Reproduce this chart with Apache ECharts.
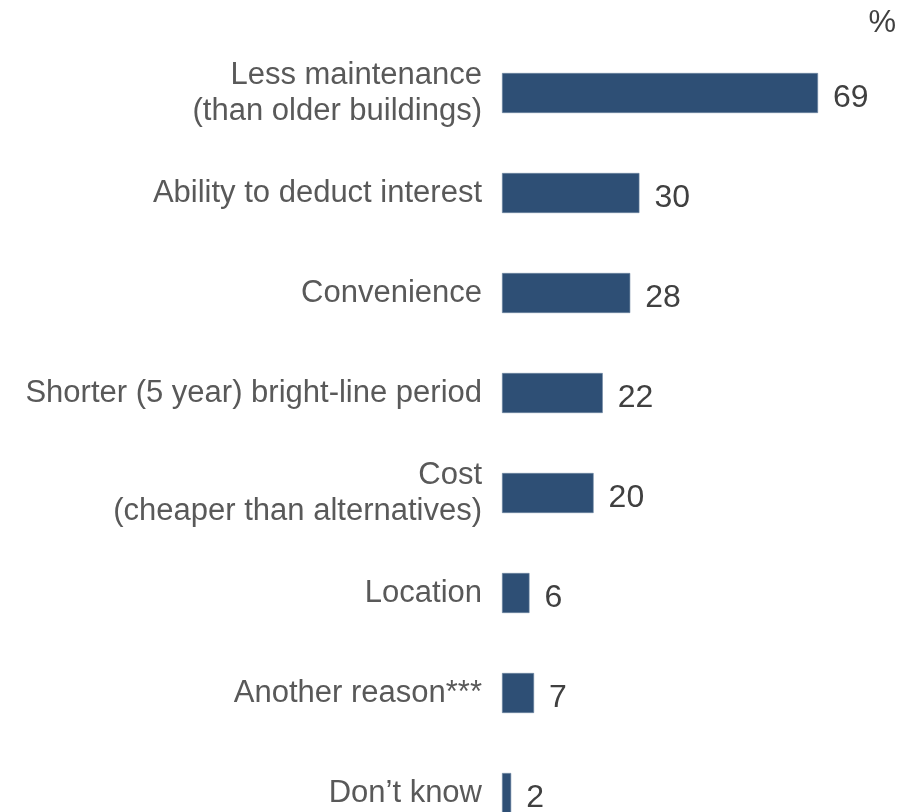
<!DOCTYPE html>
<html>
<head>
<meta charset="utf-8">
<script src="https://cdn.jsdelivr.net/npm/echarts@6/dist/echarts.min.js"></script>
<style>
  html, body { margin: 0; padding: 0; background: #ffffff; }
  #chart { width: 900px; height: 812px; }
</style>
</head>
<body>
<div id="chart"></div>
<script>
// Reasons given, top to bottom
const categories = [
  'Less maintenance\n(than older buildings)',
  'Ability to deduct interest',
  'Convenience',
  'Shorter (5 year) bright-line period',
  'Cost\n(cheaper than alternatives)',
  'Location',
  'Another reason***',
  'Don\u2019t know'
];
// Share of respondents, %
const values = [69, 30, 28, 22, 20, 6, 7, 2];
const unitLabel = '%';

const chart = echarts.init(document.getElementById('chart'), null, { renderer: 'canvas' });
const font = 'Liberation Sans, Arial, sans-serif';

chart.setOption({
  animation: false,
  backgroundColor: '#ffffff',
  // 100 px per category band; the last band runs past the bottom edge
  grid: {
    left: 502, top: 43, width: 366.4, height: 800,
    containLabel: false, outerBoundsMode: 'none'
  },
  xAxis: {
    type: 'value', min: 0, max: 80, show: false
  },
  yAxis: {
    type: 'category',
    inverse: true,
    data: categories,
    axisLine: { show: false },
    axisTick: { show: false },
    splitLine: { show: false },
    axisLabel: {
      fontFamily: font,
      fontSize: 31,
      color: '#595959',
      lineHeight: 36,
      margin: 20,
      align: 'right',
      padding: [0, 0, 20, 0]
    }
  },
  series: [{
    type: 'bar',
    data: values,
    barWidth: 40,
    itemStyle: { color: '#2E4F75', borderColor: '#6F86A3', borderWidth: 0.6 },
    label: {
      show: true,
      position: 'right',
      distance: 15,
      offset: [0, 5],
      fontFamily: font,
      fontSize: 32,
      color: '#404040'
    }
  }],
  graphic: [{
    type: 'text',
    right: 4,
    top: 8,
    style: { text: unitLabel, fontFamily: font, fontSize: 31, fill: '#404040' }
  }]
});
</script>
</body>
</html>
